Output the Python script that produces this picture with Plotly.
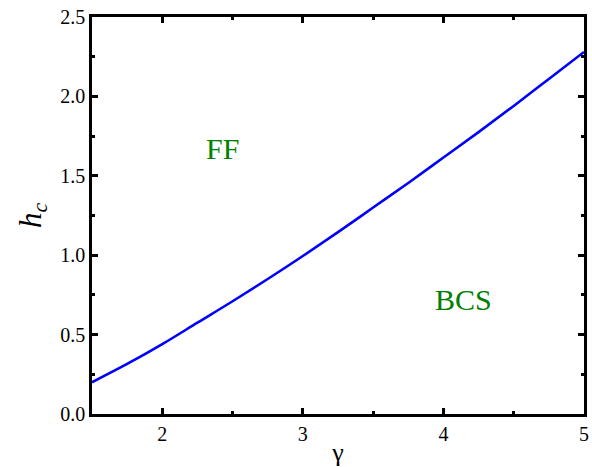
import plotly.graph_objects as go

gamma = [1.5, 1.75, 2.0, 2.25, 2.5, 2.75, 3.0, 3.25, 3.5, 3.75, 4.0, 4.25, 4.5, 4.75, 5.0]
h_c = [0.20, 0.315, 0.44, 0.575, 0.71, 0.85, 0.995, 1.145, 1.30, 1.455, 1.615, 1.775, 1.94, 2.11, 2.28]

labels = ["FF", "BCS"]
label_x = [2.425, 4.14]
label_y = [1.675, 0.724]

FONT = "Liberation Serif"

fig = go.Figure()
fig.add_trace(go.Scatter(x=gamma, y=h_c, mode="lines", line=dict(color="#0000ff", width=2.6, shape="spline"),
                         showlegend=False, hoverinfo="skip"))

for t, x, y in zip(labels, label_x, label_y):
    fig.add_annotation(x=x, y=y, text=t, showarrow=False,
                       font=dict(family=FONT, size=30, color="#008000"))

axis_common = dict(
    showline=True, linecolor="black", linewidth=2.5, mirror="ticks",
    ticks="inside", ticklen=6, tickwidth=2.5, tickcolor="black",
    showgrid=False, zeroline=False, automargin=False,
    tickfont=dict(family=FONT, size=20, color="black"),
)

fig.update_xaxes(range=[1.5, 5], tickvals=[2, 3, 4, 5],
                 minor=dict(tickvals=[2.5, 3.5, 4.5], ticks="inside", ticklen=3, tickwidth=2.5, tickcolor="black"),
                 title=dict(text="γ", font=dict(family=FONT, size=26, color="black"), standoff=2),
                 **axis_common)
fig.update_yaxes(range=[0, 2.5], tickvals=[0, 0.5, 1.0, 1.5, 2.0, 2.5], ticktext=["0.0", "0.5", "1.0", "1.5", "2.0", "2.5"],
                 minor=dict(tickvals=[0.25, 0.75, 1.25, 1.75, 2.25], ticks="inside", ticklen=3, tickwidth=2.5, tickcolor="black"),
                 title=dict(text="<i>h<sub>c</sub></i>", font=dict(family=FONT, size=31, color="black"), standoff=10),
                 **axis_common)

fig.update_layout(width=592, height=467, margin=dict(l=92, r=8, t=17, b=53),
                  plot_bgcolor="white", paper_bgcolor="white")

fig.write_html("out.html", config={"displayModeBar": False},
               post_script="document.body.style.margin='0';document.body.style.overflow='hidden';")
